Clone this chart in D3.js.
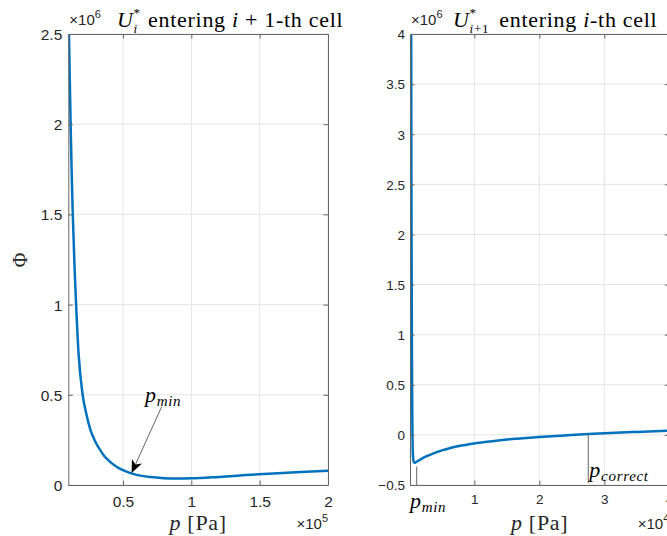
<!DOCTYPE html>
<html>
<head>
<meta charset="utf-8">
<script src="https://cdn.jsdelivr.net/npm/d3@7"></script>
<style>
  html, body { margin: 0; padding: 0; background: #fff; overflow: hidden; }
  svg { display: block; }
  text { white-space: pre; }
</style>
</head>
<body>
<svg id="fig" width="667" height="536"></svg>
<script>
// Left panel: U_i^* entering the (i+1)-th cell. p in 1e5 Pa, Phi in 1e6.
const leftP   = [0.1, 0.105, 0.11, 0.117, 0.125, 0.132, 0.145, 0.156, 0.175, 0.205, 0.23, 0.26, 0.30, 0.33, 0.36, 0.40, 0.45, 0.50, 0.55, 0.60, 0.70, 0.80, 0.90, 1.00, 1.20, 1.40, 1.60, 1.80, 2.00];
const leftPhi = [2.72, 2.5, 2.28, 2.0, 1.72, 1.52, 1.22, 1.02, 0.73, 0.5, 0.40, 0.31, 0.237, 0.197, 0.164, 0.132, 0.103, 0.082, 0.067, 0.056, 0.044, 0.038, 0.036, 0.037, 0.045, 0.055, 0.064, 0.072, 0.079];
const leftXTicks = [0.5, 1, 1.5, 2];
const leftYTicks = [0, 0.5, 1, 1.5, 2, 2.5];

// Right panel: U_{i+1}^* entering the i-th cell. p in 1e4 Pa, Phi in 1e6.
const rightP   = [0.028, 0.032, 0.036, 0.040, 0.044, 0.048, 0.052, 0.058, 0.066, 0.075, 0.085, 0.10, 0.13, 0.165, 0.25, 0.37, 0.5, 0.63, 0.8, 1.0, 1.2, 1.4, 1.7, 2.0, 2.4, 2.75, 3.0, 3.5, 4.0];
const rightPhi = [4.1, 2.5, 1.5, 0.8, 0.3, 0.0, -0.15, -0.23, -0.265, -0.276, -0.278, -0.273, -0.261, -0.248, -0.218, -0.185, -0.155, -0.13, -0.106, -0.085, -0.068, -0.053, -0.036, -0.021, -0.005, 0.008, 0.016, 0.03, 0.043];
const rightXTicks = [1, 2, 3, 4];
const rightYTicks = [-0.5, 0, 0.5, 1, 1.5, 2, 2.5, 3, 3.5, 4];

// Marked pressures
const leftPmin = {tail: [0.783, 0.434], tip: [0.563, 0.066], label: [0.661, 0.46]};
const rightPmin = {p: 0.113, from: -0.316, to: -0.5, label: [0.01, -0.727]};
const rightPcorrect = {p: 2.753, from: 0.008, to: -0.48, label: [2.77, -0.425]};

const serif = "'Liberation Serif','Times New Roman',serif";
const sans = "'Liberation Sans',Arial,Helvetica,sans-serif";
const lineColor = "#0072BD";
const axisColor = "#666";
const gridColor = "#e4e4e4";
const textColor = "#262626";

const svg = d3.select("#fig");
svg.append("rect").attr("width", 667).attr("height", 536).attr("fill", "#fff");

// Builds a run of math-style text; parts with stack:true sit at the start of the previous part.
function mathText(parent, x, y, parts, anchor) {
  const g = parent.append("g");
  let cx = 0, lastStart = 0;
  parts.forEach(p => {
    const sx = p.stack ? lastStart : cx;
    const t = g.append("text")
      .attr("x", sx).attr("y", p.dy || 0)
      .attr("font-family", serif)
      .attr("font-size", p.fs || 22)
      .attr("letter-spacing", p.ls == null ? 0.7 : p.ls)
      .attr("fill", p.fill || "#000");
    (p.spans || [[p.t, p.it]]).forEach(([s, it]) =>
      t.append("tspan").attr("font-style", it ? "italic" : "normal").text(s));
    const w = t.node().getComputedTextLength() + (p.gap || 0);
    if (p.stack) cx = Math.max(cx, sx + w);
    else { lastStart = sx; cx = sx + w; }
  });
  const off = anchor === "middle" ? cx / 2 : anchor === "end" ? cx : 0;
  g.attr("transform", `translate(${x - off},${y})`);
  return g;
}

function panel(cfg) {
  const {x0, x1, y0, y1} = cfg.box;
  const xs = d3.scaleLinear().domain(cfg.xDomain).range([x0, x1]);
  const ys = d3.scaleLinear().domain(cfg.yDomain).range([y1, y0]);
  const g = svg.append("g");

  const clipId = "clip-" + cfg.id;
  g.append("clipPath").attr("id", clipId)
    .append("rect").attr("x", x0).attr("y", y0).attr("width", x1 - x0).attr("height", y1 - y0);

  // grid
  g.append("g").selectAll("line").data(cfg.xTicks).join("line")
    .attr("x1", d => xs(d)).attr("x2", d => xs(d)).attr("y1", y0).attr("y2", y1)
    .attr("stroke", gridColor).attr("stroke-width", 1);
  g.append("g").selectAll("line").data(cfg.yTicks).join("line")
    .attr("y1", d => ys(d)).attr("y2", d => ys(d)).attr("x1", x0).attr("x2", x1)
    .attr("stroke", gridColor).attr("stroke-width", 1);

  // curve
  const line = d3.line().x(d => xs(d[0])).y(d => ys(d[1])).curve(d3.curveMonotoneX);
  g.append("path")
    .datum(cfg.px.map((p, i) => [p, cfg.py[i]]))
    .attr("clip-path", `url(#${clipId})`)
    .attr("d", line).attr("fill", "none")
    .attr("stroke", lineColor).attr("stroke-width", 2.5)
    .attr("stroke-linejoin", "round");

  // axes (box with inward ticks on all sides)
  const tl = 4.5;
  const fmt = d3.format("~g");
  const bottom = d3.axisBottom(xs).tickValues(cfg.xTicks).tickSizeInner(-tl).tickSizeOuter(0).tickPadding(0).tickFormat(fmt);
  const top = d3.axisTop(xs).tickValues(cfg.xTicks).tickSizeInner(-tl).tickSizeOuter(0).tickFormat("");
  const left = d3.axisLeft(ys).tickValues(cfg.yTicks).tickSizeInner(-tl).tickSizeOuter(0).tickPadding(cfg.yPad).tickFormat(fmt);
  const right = d3.axisRight(ys).tickValues(cfg.yTicks).tickSizeInner(-tl).tickSizeOuter(0).tickFormat("");

  const styleAxis = (sel, fs) => {
    sel.select(".domain").attr("stroke", axisColor).attr("stroke-width", 1);
    sel.selectAll(".tick line").attr("stroke", axisColor).attr("stroke-width", 1);
    sel.selectAll(".tick text").attr("fill", textColor).attr("font-family", sans).attr("font-size", fs);
  };
  g.append("g").attr("transform", `translate(0,${y1})`).call(bottom).call(s => styleAxis(s, cfg.tickFs))
    .selectAll(".tick text").attr("y", 0).attr("dy", cfg.xLabelDy);
  g.append("g").attr("transform", `translate(0,${y0})`).call(top).call(s => styleAxis(s, cfg.tickFs));
  g.append("g").attr("transform", `translate(${x0},0)`).call(left).call(s => styleAxis(s, cfg.tickFs))
    .selectAll(".tick text").attr("dy", "0.36em");
  g.append("g").attr("transform", `translate(${x1},0)`).call(right).call(s => styleAxis(s, cfg.tickFs));

  // exponent labels
  const expY = g.append("text").attr("x", x0 + 1).attr("y", 25)
    .attr("font-family", sans).attr("font-size", 15).attr("fill", textColor);
  expY.append("tspan").text("\u00d710");
  expY.append("tspan").attr("font-size", 11).attr("dy", -7).text(cfg.yExp);

  const expX = g.append("text").attr("x", x1).attr("y", 529).attr("text-anchor", "end")
    .attr("font-family", sans).attr("font-size", 15).attr("fill", textColor);
  expX.append("tspan").text("\u00d710");
  expX.append("tspan").attr("font-size", 11).attr("dy", -7).text(cfg.xExp);

  // x label: p [Pa]
  mathText(g, (x0 + x1) / 2, 529.5, [
    {t: "p", it: true, fill: textColor},
    {t: " [Pa]", it: false, fill: textColor}
  ], "middle");

  return {xs, ys, g};
}

// ---------- left panel ----------
const L = panel({
  id: "left",
  box: {x0: 68.3, x1: 328, y0: 34, y1: 485},
  xDomain: [0.1, 2], yDomain: [0, 2.5],
  xTicks: leftXTicks, yTicks: leftYTicks,
  px: leftP, py: leftPhi,
  tickFs: 15.5, xLabelDy: 22, yPad: 6,
  yExp: "6", xExp: "5"
});

// title
mathText(svg, 117, 27, [
  {t: "U", it: true},
  {t: "*", it: false, fs: 13, dy: -10},
  {t: "i", it: true, fs: 13, dy: 6, stack: true, gap: 4},
  {t: " entering ", it: false},
  {t: "i", it: true},
  {t: " + ", it: false},
  {t: "1-th cell", it: false}
]);

// y label
svg.append("text")
  .attr("transform", "translate(27,260) rotate(-90)")
  .attr("text-anchor", "middle")
  .attr("font-family", serif).attr("font-size", 20).attr("fill", textColor)
  .text("\u03a6");

// arrow to p_min
{
  const [tx, ty] = [L.xs(leftPmin.tip[0]), L.ys(leftPmin.tip[1])];
  const [sx, sy] = [L.xs(leftPmin.tail[0]), L.ys(leftPmin.tail[1])];
  const ang = Math.atan2(ty - sy, tx - sx);
  const hl = 13, hw = 5.5;
  const bx = tx - hl * Math.cos(ang), by = ty - hl * Math.sin(ang);
  const nx = -Math.sin(ang), ny = Math.cos(ang);
  const notch = [tx - hl * 0.72 * Math.cos(ang), ty - hl * 0.72 * Math.sin(ang)];
  L.g.append("line").attr("x1", sx).attr("y1", sy).attr("x2", notch[0]).attr("y2", notch[1])
    .attr("stroke", "#555").attr("stroke-width", 0.9);
  L.g.append("path")
    .attr("d", `M${tx},${ty} L${bx + nx * hw},${by + ny * hw} L${notch[0]},${notch[1]} L${bx - nx * hw},${by - ny * hw} Z`)
    .attr("fill", "#000");
  mathText(L.g, L.xs(leftPmin.label[0]), L.ys(leftPmin.label[1]), [
    {t: "p", it: true, fs: 22},
    {t: "min", it: true, fs: 15, dy: 4}
  ]);
}

// ---------- right panel ----------
const R = panel({
  id: "right",
  box: {x0: 410, x1: 669.3, y0: 34, y1: 485},
  xDomain: [0.01, 4], yDomain: [-0.5, 4],
  xTicks: rightXTicks, yTicks: rightYTicks,
  px: rightP, py: rightPhi,
  tickFs: 13.5, xLabelDy: 19, yPad: 5,
  yExp: "6", xExp: "4"
});

mathText(svg, 453, 27, [
  {t: "U", it: true},
  {t: "*", it: false, fs: 13, dy: -10},
  {spans: [["i", true], ["+1", false]], fs: 13, dy: 6, stack: true, gap: 4},
  {t: " entering ", it: false},
  {t: "i", it: true},
  {t: "-th cell", it: false}
]);

// p_min and p_correct markers
[rightPmin, rightPcorrect].forEach(m => {
  R.g.append("line")
    .attr("x1", R.xs(m.p)).attr("x2", R.xs(m.p))
    .attr("y1", R.ys(m.from)).attr("y2", R.ys(m.to))
    .attr("stroke", "#555").attr("stroke-width", 0.9);
});
mathText(R.g, R.xs(rightPmin.label[0]), R.ys(rightPmin.label[1]), [
  {t: "p", it: true, fs: 22},
  {t: "min", it: true, fs: 15, dy: 4}
]);
mathText(R.g, R.xs(rightPcorrect.label[0]), R.ys(rightPcorrect.label[1]), [
  {t: "p", it: true, fs: 22},
  {t: "correct", it: true, fs: 15, dy: 4}
]);
</script>
</body>
</html>
